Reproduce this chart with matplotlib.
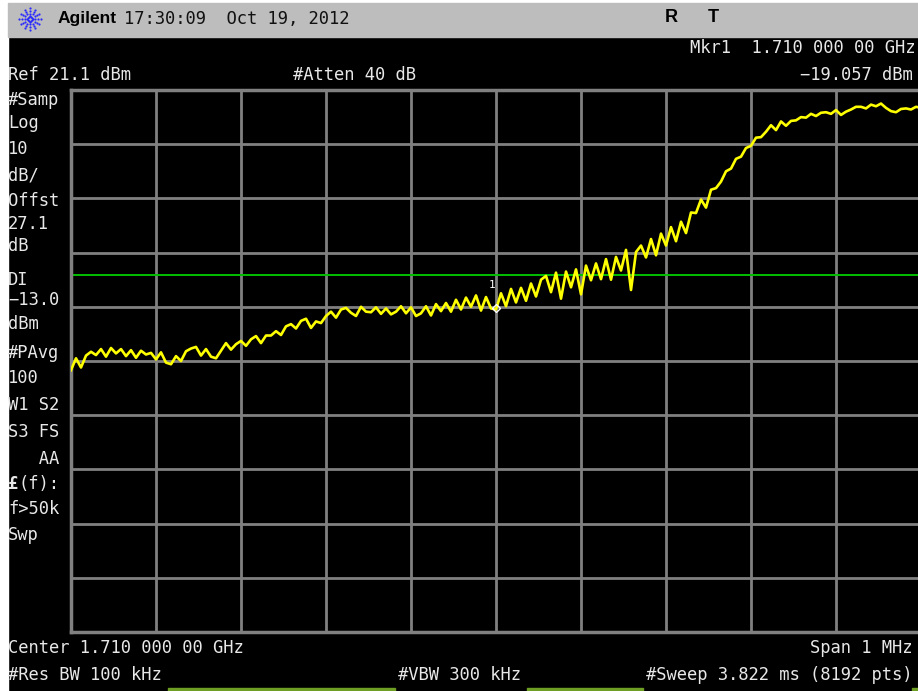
import numpy as np
import matplotlib
matplotlib.use("Agg")
import matplotlib.pyplot as plt
from matplotlib.patches import Rectangle

# Spectrum analyzer screen dump: 1.71 GHz centre, 1 MHz span
ref_level = 21.1        # dBm, top of graticule
db_per_div = 10
display_line = -13.0    # dBm
marker_freq = 0.0       # kHz offset from centre
marker_level = -19.057  # dBm
span_khz = 1000

# trace samples (dBm), evenly spaced across the span
trace_dbm = [
    -30.6, -28.4, -30.1, -27.9, -27.2,
    -27.8, -26.7, -28.1, -26.5, -27.5,
    -26.7, -28.0, -26.9, -28.3, -27.0,
    -27.7, -27.4, -28.6, -27.3, -29.2,
    -29.5, -28.0, -28.9, -27.1, -26.6,
    -26.3, -27.9, -26.7, -28.1, -28.4,
    -27.0, -25.6, -26.8, -25.8, -25.2,
    -26.1, -24.9, -24.3, -25.6, -24.2,
    -24.2, -23.4, -24.1, -22.5, -22.1,
    -22.9, -21.5, -21.1, -22.8, -21.6,
    -21.9, -20.6, -19.8, -20.9, -19.4,
    -19.1, -20.0, -20.6, -18.9, -19.8,
    -19.9, -19.0, -20.2, -19.2, -20.3,
    -19.8, -18.8, -20.1, -19.0, -20.6,
    -20.1, -18.8, -20.5, -18.4, -19.7,
    -18.2, -19.8, -17.6, -19.4, -17.2,
    -18.9, -16.8, -19.6, -17.1, -19.2,
    -19.4, -16.4, -18.8, -15.6, -18.1,
    -15.4, -17.8, -14.6, -17.0, -13.9,
    -13.2, -16.2, -12.6, -17.4, -12.4,
    -15.3, -12.0, -16.6, -11.3, -14.0,
    -10.9, -13.8, -10.1, -13.9, -9.7,
    -12.2, -8.4, -15.8, -8.8, -7.6,
    -9.8, -6.4, -9.4, -5.4, -7.6,
    -4.2, -6.8, -3.2, -5.3, -1.5,
    -1.6, 0.9, -0.6, 2.7, 3.0,
    4.2, 6.1, 6.6, 8.4, 8.8,
    10.4, 10.8, 12.3, 12.4, 13.4,
    14.6, 13.7, 15.3, 14.5, 15.4,
    15.5, 16.1, 16.0, 16.7, 16.3,
    16.9, 17.0, 16.7, 17.4, 16.5,
    17.1, 17.5, 18.0, 18.0, 17.7,
    18.4, 18.1, 18.6, 17.8, 17.2,
    17.0, 17.6, 17.7, 17.5, 18.0, 17.8,
]

left_labels = [
    ("#Samp", 100), ("Log", 123), ("10", 149), ("dB/", 176),
    ("Offst", 201), ("27.1", 224), ("dB", 246), ("DI", 280),
    ("\u221213.0", 300), ("dBm", 324), ("#PAvg", 353), ("100", 378),
    ("W1 S2", 405), ("S3 FS", 432), ("   AA", 459),
    ("f>50k", 509), ("Swp", 535),
]

W, H = 918, 691
fig = plt.figure(figsize=(W / 100, H / 100), dpi=100, facecolor="black")

def px(x, y):
    return x / W, 1 - y / H

MONO = "DejaVu Sans Mono"
TXT = "#e8e8e8"

def label(x, y, s, ha="left", size=12.3, color=TXT, **kw):
    fig.text(*px(x, y), s, ha=ha, va="center", fontsize=size,
             family=MONO, color=color, **kw)

# white border, grey title bar
fig.add_artist(Rectangle((0, 0), 8 / W, 1, transform=fig.transFigure,
                         color="white", zorder=0))
fig.add_artist(Rectangle((0, 1 - 3 / H), 1, 3 / H, transform=fig.transFigure,
                         color="white", zorder=0))
fig.add_artist(Rectangle(px(8, 37), 1, 34 / H, transform=fig.transFigure,
                         color="#bdbdbd", zorder=0))

# Agilent starburst logo
logo = fig.add_axes([18 / W, 1 - 31 / H, 24 / W, 24 / H])
logo.set_xlim(-1.1, 1.1)
logo.set_ylim(-1.1, 1.1)
logo.axis("off")
for ang in np.linspace(0, 2 * np.pi, 12, endpoint=False):
    r = np.array([0.25, 0.5, 0.75, 1.0])
    logo.scatter(r * np.cos(ang), r * np.sin(ang), s=2.5, color="#2a2aff",
                 linewidths=0)

fig.text(*px(58, 19), "Agilent", ha="left", va="center", fontsize=12.5,
         family="Liberation Sans", weight="bold", color="black")
fig.text(*px(124, 19), "17:30:09  Oct 19, 2012", ha="left", va="center",
         fontsize=12.3, family=MONO, color="#111111")
fig.text(*px(671, 18), "R", ha="center", va="center", fontsize=13,
         family="Liberation Sans", weight="bold", color="black")
fig.text(*px(713, 18), "T", ha="center", va="center", fontsize=13,
         family="Liberation Sans", weight="bold", color="black")

# header / footer annotations
label(915, 48, "Mkr1  1.710 000 00 GHz", ha="right")
label(913, 75, f"\u2212{abs(marker_level):.3f} dBm", ha="right")
label(8, 75, f"Ref {ref_level} dBm")
label(293, 75, "#Atten 40 dB")
label(8, 648, "Center 1.710 000 00 GHz")
label(913, 648, "Span 1 MHz", ha="right")
label(8, 675, "#Res BW 100 kHz")
label(398, 675, "#VBW 300 kHz")
label(913, 675, "#Sweep 3.822 ms (8192 pts)", ha="right")

for s, y in left_labels:
    label(8, y, s)
label(8, 484, "\u00a3", weight="bold")
label(18, 484, "(f):")

# status strip along the bottom edge
for x0, x1 in [(168, 395), (527, 643), (912, 918)]:
    fig.add_artist(Rectangle(px(x0, 691), (x1 - x0) / W, 3 / H,
                             transform=fig.transFigure, color="#6e9f24"))

# graticule: 10 x 10 divisions
ax = fig.add_axes([71 / W, 1 - 632 / H, 850 / W, 542 / H])
ax.set_facecolor("black")
half = span_khz / 2
bottom = ref_level - 10 * db_per_div
ax.set_xlim(-half, half)
ax.set_ylim(bottom, ref_level)
ax.set_xticks(np.linspace(-half, half, 11))
ax.set_yticks(np.linspace(bottom, ref_level, 11))
ax.grid(True, color="#808080", linewidth=2)
ax.tick_params(length=0, labelbottom=False, labelleft=False)
for sp in ax.spines.values():
    sp.set_color("#808080")
    sp.set_linewidth(2.5)

freqs = np.linspace(-half, half, len(trace_dbm))
ax.plot(freqs, trace_dbm, color="#ffff00", linewidth=1.9, zorder=3)
ax.axhline(display_line, color="#00c000", linewidth=1.4, zorder=2)

ax.plot([marker_freq], [marker_level], marker="D", markersize=4,
        markerfacecolor="none", markeredgecolor="white", zorder=4)
ax.annotate("1", (marker_freq, marker_level), xytext=(-3, 16),
            textcoords="offset points", color="white", fontsize=8,
            family=MONO, ha="center", va="center")

fig.savefig("out.png", dpi=100, facecolor="black")
